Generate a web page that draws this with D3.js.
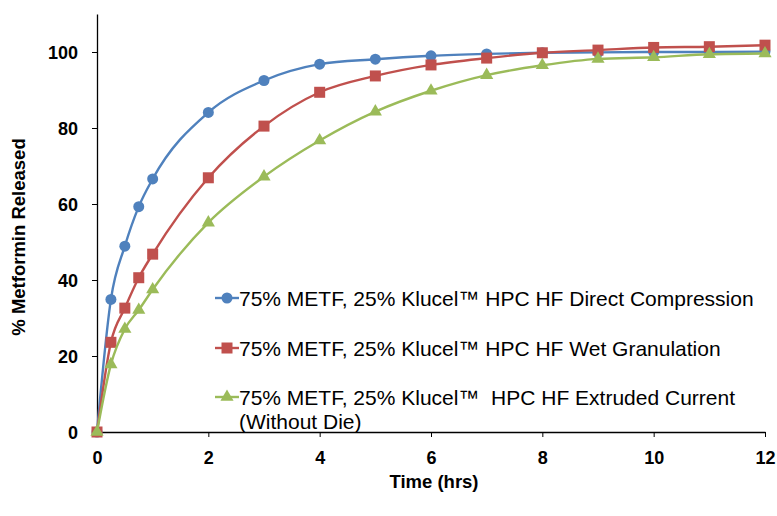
<!DOCTYPE html>
<meta charset="utf-8">
<title>Metformin release</title>
<style>
    body {
        margin: 0;
        background: #fff;
    }

    svg text {
        font-family: "Liberation Sans", Arial, sans-serif;
    }

    .tick text {
        font-size: 18px;
        font-weight: bold;
    }

    .legend text {
        font-size: 21px;
        white-space: pre;
    }
</style>
<body>
<script src="https://cdnjs.cloudflare.com/ajax/libs/d3/7.8.5/d3.min.js"></script>
<script>
    var times = [0, 0.25, 0.5, 0.75, 1, 2, 3, 4, 5, 6, 7, 8, 9, 10, 11, 12];
    var directCompression = [0, 34.9, 48.9, 59.3, 66.6, 84.1, 92.5, 96.8, 98.1, 99.0, 99.5, 99.8, 99.9, 100.0, 100.0, 100.1];
    var wetGranulation = [0, 23.6, 32.6, 40.6, 46.8, 66.9, 80.5, 89.4, 93.7, 96.6, 98.4, 99.8, 100.5, 101.2, 101.4, 101.8];
    var extruded = [0, 17.8, 27.1, 32.1, 37.5, 55.1, 67.2, 76.7, 84.3, 89.8, 93.9, 96.5, 98.2, 98.6, 99.4, 99.6];
    var seriesNames = [
        "75% METF, 25% Klucel\u2122 HPC HF Direct Compression",
        "75% METF, 25% Klucel\u2122 HPC HF Wet Granulation",
        "75% METF, 25% Klucel\u2122  HPC HF Extruded Current"
    ];
    var xTicks = [0, 2, 4, 6, 8, 10, 12];
    var yTicks = [0, 20, 40, 60, 80, 100];

    var W = 777, H = 516;
    var plotLeft = 97, plotRight = 765, plotTop = 14, plotBottom = 432;

    var colors = ["#4F81BD", "#C0504D", "#9BBB59"];
    var shapes = ["circle", "square", "triangle"];
    var values = [directCompression, wetGranulation, extruded];

    var x = d3.scaleLinear().domain([0, 12]).range([plotLeft, plotRight]);
    var y = d3.scaleLinear().domain([0, 110]).range([plotBottom, plotTop]);

    var svg = d3.select("body").append("svg")
        .attr("width", W)
        .attr("height", H);

    // axes
    var xAxis = svg.append("g")
        .attr("transform", "translate(0," + plotBottom + ")")
        .call(d3.axisBottom(x).tickValues(xTicks).tickSize(5).tickSizeOuter(0).tickPadding(14));
    var yAxis = svg.append("g")
        .attr("transform", "translate(" + plotLeft + ",0)")
        .call(d3.axisLeft(y).tickValues(yTicks).tickSize(5).tickSizeOuter(0).tickPadding(14));

    [xAxis, yAxis].forEach(function (g) {
        g.select(".domain").attr("stroke", "#000").attr("stroke-width", 1.3);
        g.selectAll(".tick line").attr("stroke", "#000").attr("stroke-width", 1);
        g.selectAll(".tick text").attr("fill", "#000").attr("font-family", null).attr("font-size", null);
    });
    yAxis.selectAll(".tick text").attr("dy", "0.36em");

    svg.append("text")
        .attr("x", 434)
        .attr("y", 488)
        .attr("text-anchor", "middle")
        .attr("font-size", 18.5)
        .attr("font-weight", "bold")
        .text("Time (hrs)");

    svg.append("text")
        .attr("transform", "translate(25,237) rotate(-90)")
        .attr("text-anchor", "middle")
        .attr("font-size", 18.5)
        .attr("font-weight", "bold")
        .text("% Metformin Released");

    function marker(sel, shape, color) {
        if (shape === "circle") {
            sel.append("circle").attr("r", 5.5).attr("fill", color);
        } else if (shape === "square") {
            sel.append("rect").attr("x", -5.5).attr("y", -5.5)
                .attr("width", 11).attr("height", 11).attr("fill", color);
        } else {
            sel.append("path").attr("d", d3.symbol(d3.symbolTriangle, 75)()).attr("fill", color);
        }
    }

    var line = d3.line()
        .x(function (d) { return x(d[0]); })
        .y(function (d) { return y(d[1]); })
        .curve(d3.curveMonotoneX);

    values.forEach(function (vals, s) {
        var pts = times.map(function (t, i) { return [t, vals[i]]; });
        var g = svg.append("g");
        g.append("path")
            .datum(pts)
            .attr("fill", "none")
            .attr("stroke", colors[s])
            .attr("stroke-width", 2.4)
            .attr("d", line);
        g.selectAll("g.pt")
            .data(pts)
            .enter()
            .append("g")
            .attr("class", "pt")
            .attr("transform", function (d) { return "translate(" + x(d[0]) + "," + y(d[1]) + ")"; })
            .each(function () { marker(d3.select(this), shapes[s], colors[s]); });
    });

    // legend
    var legendY = [298, 348, 397];
    var legend = svg.append("g").attr("class", "legend");
    seriesNames.forEach(function (name, s) {
        var g = legend.append("g").attr("transform", "translate(215," + legendY[s] + ")");
        g.append("line").attr("x1", 0).attr("x2", 24)
            .attr("stroke", colors[s]).attr("stroke-width", 2.4);
        marker(g.append("g").attr("transform", "translate(12,0)"), shapes[s], colors[s]);
        g.append("text").attr("x", 24).attr("dy", "0.36em").attr("fill", "#000").text(name);
        if (s === 2) {
            g.append("text").attr("x", 24).attr("y", 24).attr("dy", "0.36em").attr("fill", "#000").text("(Without Die)");
        }
    });
</script>
